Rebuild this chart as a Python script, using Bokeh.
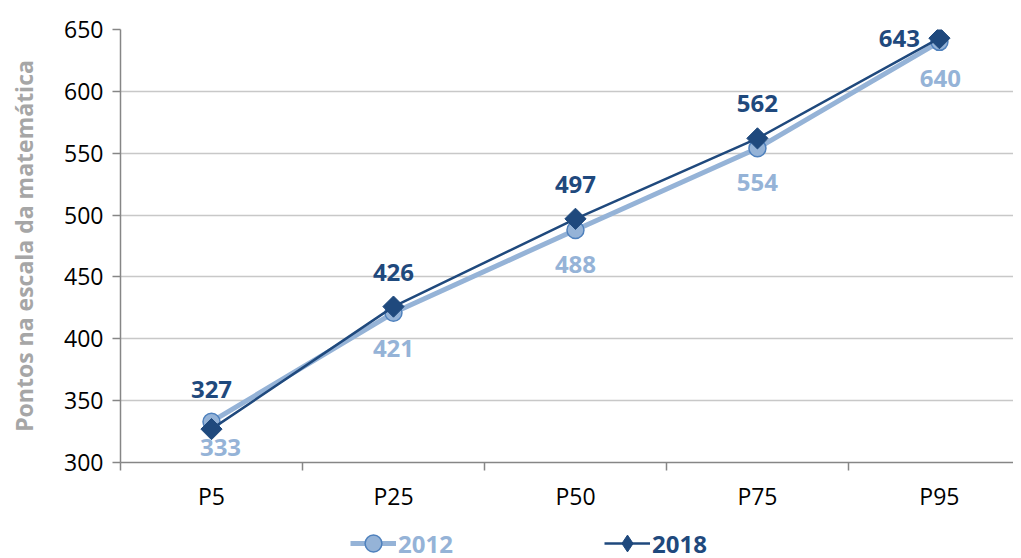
from bokeh.plotting import figure
from bokeh.models import ColumnDataSource, FixedTicker, Legend, LegendItem
from bokeh.layouts import column
from bokeh.core.properties import value
from bokeh.embed import file_html
from bokeh.resources import INLINE
import math

categories = ["P5", "P25", "P50", "P75", "P95"]
values_2012 = [333, 421, 488, 554, 640]
values_2018 = [327, 426, 497, 562, 643]
y_ticks = [300, 350, 400, 450, 500, 550, 600, 650]
series_names = ["2012", "2018"]

# label offsets (styling, screen pixels)
off_2012_x = [9, 0, 0, 0, 1]
off_2012_y = [26, 36, 35, 34, 37]
off_2018_x = [0, 0, 0, 0, -40]
off_2018_y = [-40, -34, -34, -35, 0]

C2012 = "#95B3D7"
C2012_EDGE = "#4F81BD"
C2018 = "#1F497D"
FONT = "Open Sans"

xs = list(range(len(categories)))

p = figure(width=1013, height=516, output_backend="svg", toolbar_location=None,
           x_range=(-0.5, 4.407), y_range=(300, 650),
           min_border_left=120, min_border_right=0, min_border_top=29,
           min_border_bottom=54)
p.outline_line_color = None
p.background_fill_color = "white"
p.border_fill_color = "white"

# y axis
p.yaxis.ticker = FixedTicker(ticks=y_ticks)
p.yaxis.axis_line_color = "#868686"
p.yaxis.axis_line_width = 1.5
p.yaxis.major_tick_line_color = "#868686"
p.yaxis.major_tick_line_width = 1.5
p.yaxis.major_tick_out = 8
p.yaxis.major_tick_in = 0
p.yaxis.minor_tick_line_color = None
p.yaxis.major_label_text_font = FONT
p.yaxis.major_label_text_font_size = "23px"
p.yaxis.major_label_text_color = "#000000"
p.yaxis.major_label_standoff = 9
p.yaxis.axis_label = "Pontos na escala da matemática"
p.yaxis.axis_label_text_font = FONT
p.yaxis.axis_label_text_font_size = "23px"
p.yaxis.axis_label_text_font_style = "bold"
p.yaxis.axis_label_text_color = "#A6A6A6"
p.yaxis.axis_label_standoff = 21

# x axis
p.xaxis.ticker = FixedTicker(ticks=xs, minor_ticks=[-0.5, 0.5, 1.5, 2.5, 3.5])
p.xaxis.major_label_overrides = {i: c for i, c in enumerate(categories)}
p.xaxis.axis_line_color = "#868686"
p.xaxis.axis_line_width = 1.5
p.xaxis.major_tick_line_color = None
p.xaxis.major_tick_out = 0
p.xaxis.major_tick_in = 0
p.xaxis.minor_tick_line_color = "#868686"
p.xaxis.minor_tick_line_width = 1.5
p.xaxis.minor_tick_out = 8
p.xaxis.minor_tick_in = 0
p.xaxis.major_label_text_font = FONT
p.xaxis.major_label_text_font_size = "23px"
p.xaxis.major_label_text_color = "#000000"
p.xaxis.major_label_standoff = 9

p.xgrid.grid_line_color = None
p.ygrid.ticker = FixedTicker(ticks=y_ticks[1:])
p.ygrid.grid_line_color = "#C8C8C8"
p.ygrid.grid_line_width = 1.5

src12 = ColumnDataSource(dict(x=xs, y=values_2012, t=[str(v) for v in values_2012],
                              xo=off_2012_x, yo=off_2012_y))
src18 = ColumnDataSource(dict(x=xs, y=values_2018, t=[str(v) for v in values_2018],
                              xo=off_2018_x, yo=off_2018_y))

line12 = dict(line_color=C2012, line_width=5)
mark12 = dict(marker="circle", size=17, fill_color=C2012, line_color=C2012_EDGE, line_width=1.5)
line18 = dict(line_color=C2018, line_width=2.5)
mark18 = dict(marker="square", size=15, angle=math.pi / 4, fill_color=C2018, line_color=C2018)

p.line("x", "y", source=src12, **line12)
p.scatter("x", "y", source=src12, **mark12)
p.line("x", "y", source=src18, **line18)
p.scatter("x", "y", source=src18, **mark18)

p.text("x", "y", text="t", source=src12, x_offset="xo", y_offset="yo",
       text_align="center", text_baseline="middle", text_color=C2012,
       text_font=value(FONT), text_font_size="24px", text_font_style="bold")
p.text("x", "y", text="t", source=src18, x_offset="xo", y_offset="yo",
       text_align="center", text_baseline="middle", text_color=C2018,
       text_font=value(FONT), text_font_size="24px", text_font_style="bold")

# legend strip (its renderers reuse the series but fall outside this strip's ranges)
q = figure(width=1013, height=42, output_backend="svg", toolbar_location=None,
           x_range=(-10, -9), y_range=(0, 1), min_border=0)
q.axis.visible = False
q.grid.visible = False
q.outline_line_color = None
q.border_fill_color = "white"

ql12 = q.line("x", "y", source=src12, **line12)
qm12 = q.scatter("x", "y", source=src12, **mark12)
ql18 = q.line("x", "y", source=src18, **line18)
qm18 = q.scatter("x", "y", source=src18, marker="diamond", size=22,
                 fill_color=C2018, line_color=C2018)

def make_legend(label, rends, color, loc):
    return Legend(items=[LegendItem(label=label, renderers=rends)], location=loc,
                  orientation="horizontal", label_text_font=FONT,
                  label_text_font_size="24px", label_text_font_style="bold",
                  label_text_color=color, glyph_width=46, glyph_height=42,
                  label_height=24, label_standoff=2, padding=0, margin=0,
                  border_line_color=None, background_fill_alpha=0)

q.add_layout(make_legend(series_names[0], [ql12, qm12], C2012, (230, -6)), "center")
q.add_layout(make_legend(series_names[1], [ql18, qm18], C2018, (484, -6)), "center")

layout = column(p, q, spacing=0)
open("out.html", "w").write(file_html(layout, INLINE))
